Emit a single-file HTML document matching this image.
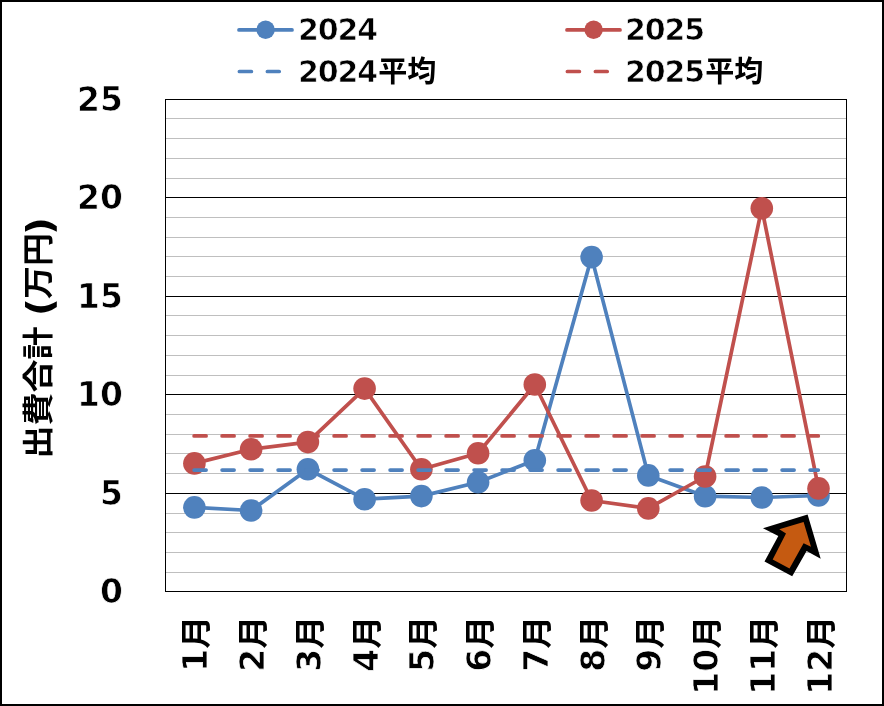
<!DOCTYPE html><html><head><meta charset="utf-8"><style>html,body{margin:0;padding:0;background:#fff;}svg{display:block}text{font-family:"DejaVu Sans","Noto Sans CJK JP",sans-serif;font-weight:bold;fill:#000}.th{stroke:#fff;stroke-width:0.7px}</style></head><body>
<svg width="884" height="706" viewBox="0 0 884 706">
<rect x="0" y="0" width="884" height="706" fill="#fff"/>
<rect x="1" y="1" width="882" height="704" fill="none" stroke="#000" stroke-width="2"/>
<line x1="166" y1="118.5" x2="846" y2="118.5" stroke="#bfbfbf" stroke-width="1"/>
<line x1="166" y1="138.5" x2="846" y2="138.5" stroke="#bfbfbf" stroke-width="1"/>
<line x1="166" y1="158.5" x2="846" y2="158.5" stroke="#bfbfbf" stroke-width="1"/>
<line x1="166" y1="178.5" x2="846" y2="178.5" stroke="#bfbfbf" stroke-width="1"/>
<line x1="166" y1="217.5" x2="846" y2="217.5" stroke="#bfbfbf" stroke-width="1"/>
<line x1="166" y1="237.5" x2="846" y2="237.5" stroke="#bfbfbf" stroke-width="1"/>
<line x1="166" y1="256.5" x2="846" y2="256.5" stroke="#bfbfbf" stroke-width="1"/>
<line x1="166" y1="276.5" x2="846" y2="276.5" stroke="#bfbfbf" stroke-width="1"/>
<line x1="166" y1="315.5" x2="846" y2="315.5" stroke="#bfbfbf" stroke-width="1"/>
<line x1="166" y1="335.5" x2="846" y2="335.5" stroke="#bfbfbf" stroke-width="1"/>
<line x1="166" y1="355.5" x2="846" y2="355.5" stroke="#bfbfbf" stroke-width="1"/>
<line x1="166" y1="375.5" x2="846" y2="375.5" stroke="#bfbfbf" stroke-width="1"/>
<line x1="166" y1="414.5" x2="846" y2="414.5" stroke="#bfbfbf" stroke-width="1"/>
<line x1="166" y1="434.5" x2="846" y2="434.5" stroke="#bfbfbf" stroke-width="1"/>
<line x1="166" y1="453.5" x2="846" y2="453.5" stroke="#bfbfbf" stroke-width="1"/>
<line x1="166" y1="473.5" x2="846" y2="473.5" stroke="#bfbfbf" stroke-width="1"/>
<line x1="166" y1="513.5" x2="846" y2="513.5" stroke="#bfbfbf" stroke-width="1"/>
<line x1="166" y1="532.5" x2="846" y2="532.5" stroke="#bfbfbf" stroke-width="1"/>
<line x1="166" y1="552.5" x2="846" y2="552.5" stroke="#bfbfbf" stroke-width="1"/>
<line x1="166" y1="572.5" x2="846" y2="572.5" stroke="#bfbfbf" stroke-width="1"/>
<line x1="166" y1="197.5" x2="846" y2="197.5" stroke="#000" stroke-width="1"/>
<line x1="166" y1="296.5" x2="846" y2="296.5" stroke="#000" stroke-width="1"/>
<line x1="166" y1="394.5" x2="846" y2="394.5" stroke="#000" stroke-width="1"/>
<line x1="166" y1="493.5" x2="846" y2="493.5" stroke="#000" stroke-width="1"/>
<rect x="165.5" y="99.5" width="681" height="492" fill="none" stroke="#000" stroke-width="1"/>
<polyline points="194.4,507.4 251.1,510.5 307.9,469.2 364.6,499.2 421.4,496.1 478.1,482.3 534.8,460.2 591.6,257.1 648.3,475.4 705.1,496.2 761.8,497.5 818.5,495.5" fill="none" stroke="#4f81bd" stroke-width="3.7" stroke-linejoin="round" stroke-linecap="round"/>
<circle cx="194.4" cy="507.4" r="11.3" fill="#4f81bd"/>
<circle cx="251.1" cy="510.5" r="11.3" fill="#4f81bd"/>
<circle cx="307.9" cy="469.2" r="11.3" fill="#4f81bd"/>
<circle cx="364.6" cy="499.2" r="11.3" fill="#4f81bd"/>
<circle cx="421.4" cy="496.1" r="11.3" fill="#4f81bd"/>
<circle cx="478.1" cy="482.3" r="11.3" fill="#4f81bd"/>
<circle cx="534.8" cy="460.2" r="11.3" fill="#4f81bd"/>
<circle cx="591.6" cy="257.1" r="11.3" fill="#4f81bd"/>
<circle cx="648.3" cy="475.4" r="11.3" fill="#4f81bd"/>
<circle cx="705.1" cy="496.2" r="11.3" fill="#4f81bd"/>
<circle cx="761.8" cy="497.5" r="11.3" fill="#4f81bd"/>
<circle cx="818.5" cy="495.5" r="11.3" fill="#4f81bd"/>
<polyline points="194.4,463.4 251.1,449.3 307.9,442.1 364.6,388.6 421.4,469.3 478.1,453.2 534.8,384.5 591.6,500.5 648.3,508.4 705.1,476.5 761.8,208.2 818.5,488.4" fill="none" stroke="#c0504d" stroke-width="3.7" stroke-linejoin="round" stroke-linecap="round"/>
<circle cx="194.4" cy="463.4" r="11.3" fill="#c0504d"/>
<circle cx="251.1" cy="449.3" r="11.3" fill="#c0504d"/>
<circle cx="307.9" cy="442.1" r="11.3" fill="#c0504d"/>
<circle cx="364.6" cy="388.6" r="11.3" fill="#c0504d"/>
<circle cx="421.4" cy="469.3" r="11.3" fill="#c0504d"/>
<circle cx="478.1" cy="453.2" r="11.3" fill="#c0504d"/>
<circle cx="534.8" cy="384.5" r="11.3" fill="#c0504d"/>
<circle cx="591.6" cy="500.5" r="11.3" fill="#c0504d"/>
<circle cx="648.3" cy="508.4" r="11.3" fill="#c0504d"/>
<circle cx="705.1" cy="476.5" r="11.3" fill="#c0504d"/>
<circle cx="761.8" cy="208.2" r="11.3" fill="#c0504d"/>
<circle cx="818.5" cy="488.4" r="11.3" fill="#c0504d"/>
<line x1="194.1" y1="470.1" x2="818.3" y2="470.1" stroke="#4f81bd" stroke-width="3.7" stroke-linecap="round" stroke-dasharray="12 16"/>
<line x1="194.1" y1="435.9" x2="818.3" y2="435.9" stroke="#c0504d" stroke-width="3.7" stroke-linecap="round" stroke-dasharray="12 16"/>
<polygon points="807.6,514.5 820.7,558.8 806.6,551.1 792.2,576.2 764.5,561.5 778.3,536.0 763.0,528.3" fill="#000"/>
<polygon points="803.6,522.1 811.0,546.7 803.6,543.2 789.5,568.5 772.7,559.4 786.0,533.6 779.3,529.3" fill="#c55a11"/>
<line x1="239" y1="29.9" x2="292" y2="29.9" stroke="#4f81bd" stroke-width="3.7" stroke-linecap="round"/>
<circle cx="265.6" cy="29.8" r="9.2" fill="#4f81bd"/>
<line x1="239.4" y1="71.5" x2="279.2" y2="71.5" stroke="#4f81bd" stroke-width="3.7" stroke-linecap="round" stroke-dasharray="12 16"/>
<text class="th" x="298" y="40" font-size="30" letter-spacing="-1.1">2024</text>
<text class="th" x="298" y="82" font-size="30" letter-spacing="-1.1">2024</text>
<text x="378.3" y="81.5" font-size="29">平均</text>
<line x1="567.0" y1="29.9" x2="620.0" y2="29.9" stroke="#c0504d" stroke-width="3.7" stroke-linecap="round"/>
<circle cx="593.6" cy="29.8" r="9.2" fill="#c0504d"/>
<line x1="567.4" y1="71.5" x2="607.2" y2="71.5" stroke="#c0504d" stroke-width="3.7" stroke-linecap="round" stroke-dasharray="12 16"/>
<text class="th" x="625.0" y="40" font-size="30" letter-spacing="-1.1">2025</text>
<text class="th" x="625.0" y="82" font-size="30" letter-spacing="-1.1">2025</text>
<text x="705.3" y="81.5" font-size="29">平均</text>
<text class="th" x="123" y="111.3" font-size="33" text-anchor="end">25</text>
<text class="th" x="123" y="209.3" font-size="33" text-anchor="end">20</text>
<text class="th" x="123" y="308.3" font-size="33" text-anchor="end">15</text>
<text class="th" x="123" y="406.3" font-size="33" text-anchor="end">10</text>
<text class="th" x="123" y="505.3" font-size="33" text-anchor="end">5</text>
<text class="th" x="123" y="603.3" font-size="33" text-anchor="end">0</text>
<g transform="translate(48.5,0) rotate(-90) scale(1,0.92)"><text font-size="33"><tspan x="-458.5">出費合計</tspan><tspan x="-316" dy="3.8" font-size="39.2">(</tspan><tspan x="-299" dy="-3.8">万円</tspan><tspan x="-235" dy="3.8" font-size="39.2">)</tspan></text></g>
<g transform="translate(207.4,615.7) rotate(-90)"><text class="th" x="-33" font-size="33" text-anchor="end">1</text><text transform="scale(1,0.93)" font-size="33" text-anchor="end">月</text></g>
<g transform="translate(264.1,615.7) rotate(-90)"><text class="th" x="-33" font-size="33" text-anchor="end">2</text><text transform="scale(1,0.93)" font-size="33" text-anchor="end">月</text></g>
<g transform="translate(320.9,615.7) rotate(-90)"><text class="th" x="-33" font-size="33" text-anchor="end">3</text><text transform="scale(1,0.93)" font-size="33" text-anchor="end">月</text></g>
<g transform="translate(377.6,615.7) rotate(-90)"><text class="th" x="-33" font-size="33" text-anchor="end">4</text><text transform="scale(1,0.93)" font-size="33" text-anchor="end">月</text></g>
<g transform="translate(434.4,615.7) rotate(-90)"><text class="th" x="-33" font-size="33" text-anchor="end">5</text><text transform="scale(1,0.93)" font-size="33" text-anchor="end">月</text></g>
<g transform="translate(491.1,615.7) rotate(-90)"><text class="th" x="-33" font-size="33" text-anchor="end">6</text><text transform="scale(1,0.93)" font-size="33" text-anchor="end">月</text></g>
<g transform="translate(547.8,615.7) rotate(-90)"><text class="th" x="-33" font-size="33" text-anchor="end">7</text><text transform="scale(1,0.93)" font-size="33" text-anchor="end">月</text></g>
<g transform="translate(604.6,615.7) rotate(-90)"><text class="th" x="-33" font-size="33" text-anchor="end">8</text><text transform="scale(1,0.93)" font-size="33" text-anchor="end">月</text></g>
<g transform="translate(661.3,615.7) rotate(-90)"><text class="th" x="-33" font-size="33" text-anchor="end">9</text><text transform="scale(1,0.93)" font-size="33" text-anchor="end">月</text></g>
<g transform="translate(718.1,615.7) rotate(-90)"><text class="th" x="-33" font-size="33" text-anchor="end">10</text><text transform="scale(1,0.93)" font-size="33" text-anchor="end">月</text></g>
<g transform="translate(774.8,615.7) rotate(-90)"><text class="th" x="-33" font-size="33" text-anchor="end">11</text><text transform="scale(1,0.93)" font-size="33" text-anchor="end">月</text></g>
<g transform="translate(831.5,615.7) rotate(-90)"><text class="th" x="-33" font-size="33" text-anchor="end">12</text><text transform="scale(1,0.93)" font-size="33" text-anchor="end">月</text></g>
</svg></body></html>
